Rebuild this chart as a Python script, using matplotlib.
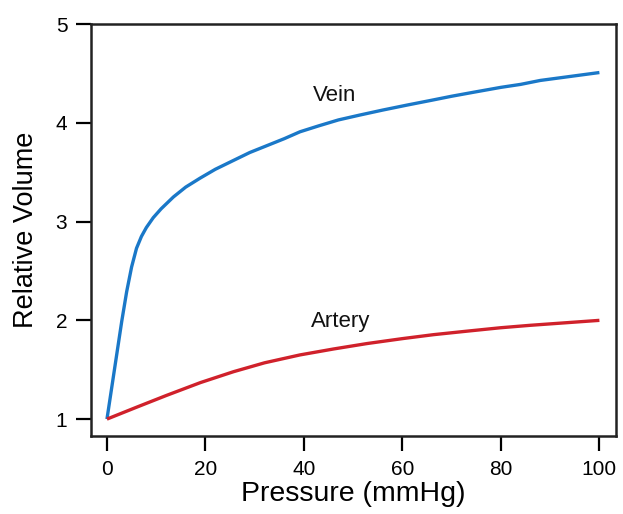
import matplotlib
matplotlib.use("Agg")
import matplotlib.pyplot as plt

plt.rcParams['font.family'] = ['Liberation Sans', 'DejaVu Sans']

# values
vein_p = [0, 1, 2, 3, 4, 5, 6, 7, 8, 9.4, 11, 13.5, 16, 18.9, 22, 25.7, 29, 32.5, 36,
          39.2, 43, 47, 51.4, 56, 60.9, 66, 70, 74.4, 80, 84, 88, 94, 100]
vein_v = [1.0, 1.33, 1.66, 1.99, 2.29, 2.54, 2.73, 2.85, 2.94, 3.04, 3.13, 3.25, 3.35, 3.44,
          3.53, 3.62, 3.70, 3.77, 3.84, 3.91, 3.97, 4.03, 4.08, 4.13, 4.18, 4.23, 4.27, 4.31,
          4.36, 4.39, 4.43, 4.47, 4.51]
artery_p = [0, 6, 12.1, 19, 25.7, 32, 39.2, 46, 52.8, 60, 66.3, 73, 79.9, 86, 93, 100]
artery_v = [1.0, 1.12, 1.24, 1.37, 1.48, 1.57, 1.65, 1.71, 1.765, 1.815, 1.855, 1.89, 1.925,
            1.95, 1.975, 2.0]
xticks = [0, 20, 40, 60, 80, 100]
yticks = [1, 2, 3, 4, 5]

fig = plt.figure(figsize=(6.23, 5.14), dpi=100)
ax = fig.add_axes([0.146, 0.152, 0.843, 0.801])

ax.plot(vein_p, vein_v, color='#1a78c8', lw=2.4, solid_capstyle='butt', solid_joinstyle='round')
ax.plot(artery_p, artery_v, color='#d0212b', lw=2.4, solid_capstyle='butt', solid_joinstyle='round')

ax.text(46.3, 4.28, 'Vein', fontsize=16, ha='center', va='center', color='#111111')
ax.text(47.4, 1.99, 'Artery', fontsize=16, ha='center', va='center', color='#111111')

ax.set_xlim(-3.25, 103.4)
ax.set_ylim(0.83, 5.0)
ax.set_xticks(xticks)
ax.set_yticks(yticks)
ax.tick_params(direction='out', length=10.5, width=1.6, labelsize=15)
ax.tick_params(axis='x', pad=7)
ax.tick_params(axis='y', pad=6.5)
for s in ax.spines.values():
    s.set_linewidth(1.8)
    s.set_color('#222222')

ax.set_xlabel('Pressure (mmHg)', fontsize=20.5, labelpad=1)
ax.set_ylabel('Relative Volume', fontsize=19.5, labelpad=12)

fig.savefig('out.png', dpi=100)
